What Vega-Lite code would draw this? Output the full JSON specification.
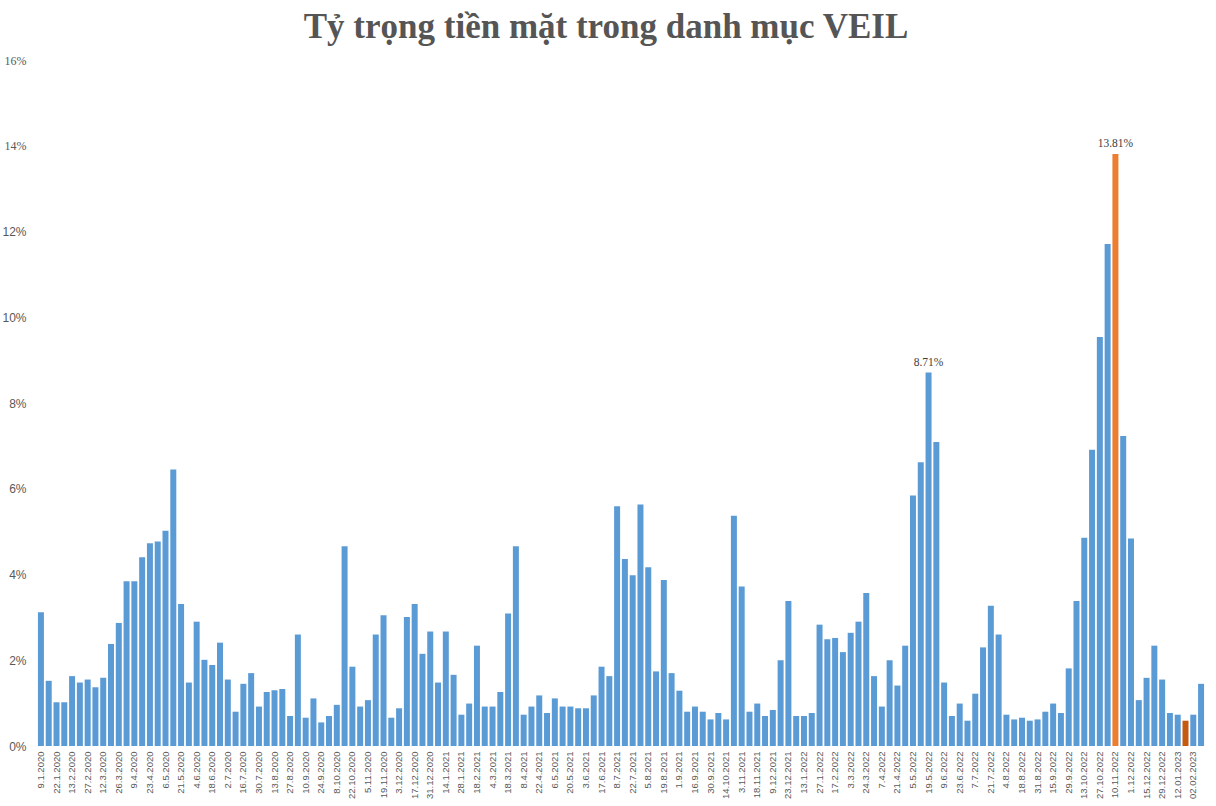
{
  "$schema": "https://vega.github.io/schema/vega-lite/v6.json",
  "autosize": {"type": "none"},
  "width": 1168,
  "height": 686,
  "padding": {"left": 37, "top": 60, "right": 11, "bottom": 60},
  "background": "#ffffff",
  "title": {
    "text": "Tỷ trọng tiền mặt trong danh mục VEIL",
    "font": "Liberation Serif",
    "fontSize": 35,
    "fontWeight": "bold",
    "color": "#555555",
    "anchor": "middle",
    "frame": "group",
    "dx": -15,
    "dy": 5,
    "offset": 14
  },
  "config": {"view": {"stroke": null}},
  "data": {
    "values": [
      {"date": "9.1.2020", "v": 0.0312},
      {"date": "15.1.2020", "v": 0.0152},
      {"date": "22.1.2020", "v": 0.0102},
      {"date": "6.2.2020", "v": 0.0102},
      {"date": "13.2.2020", "v": 0.0163},
      {"date": "20.2.2020", "v": 0.0148},
      {"date": "27.2.2020", "v": 0.0155},
      {"date": "5.3.2020", "v": 0.0137},
      {"date": "12.3.2020", "v": 0.0159},
      {"date": "19.3.2020", "v": 0.0238},
      {"date": "26.3.2020", "v": 0.0287},
      {"date": "2.4.2020", "v": 0.0384},
      {"date": "9.4.2020", "v": 0.0384},
      {"date": "16.4.2020", "v": 0.0440},
      {"date": "23.4.2020", "v": 0.0473},
      {"date": "29.4.2020", "v": 0.0477},
      {"date": "6.5.2020", "v": 0.0502},
      {"date": "14.5.2020", "v": 0.0645},
      {"date": "21.5.2020", "v": 0.0331},
      {"date": "28.5.2020", "v": 0.0148},
      {"date": "4.6.2020", "v": 0.0290},
      {"date": "11.6.2020", "v": 0.0201},
      {"date": "18.6.2020", "v": 0.0189},
      {"date": "25.6.2020", "v": 0.0241},
      {"date": "2.7.2020", "v": 0.0155},
      {"date": "9.7.2020", "v": 0.0080},
      {"date": "16.7.2020", "v": 0.0145},
      {"date": "23.7.2020", "v": 0.0170},
      {"date": "30.7.2020", "v": 0.0092},
      {"date": "6.8.2020", "v": 0.0126},
      {"date": "13.8.2020", "v": 0.0130},
      {"date": "20.8.2020", "v": 0.0133},
      {"date": "27.8.2020", "v": 0.0070},
      {"date": "3.9.2020", "v": 0.0260},
      {"date": "10.9.2020", "v": 0.0066},
      {"date": "17.9.2020", "v": 0.0111},
      {"date": "24.9.2020", "v": 0.0055},
      {"date": "1.10.2020", "v": 0.0070},
      {"date": "8.10.2020", "v": 0.0096},
      {"date": "15.10.2020", "v": 0.0466},
      {"date": "22.10.2020", "v": 0.0185},
      {"date": "29.10.2020", "v": 0.0092},
      {"date": "5.11.2020", "v": 0.0107},
      {"date": "12.11.2020", "v": 0.0260},
      {"date": "19.11.2020", "v": 0.0305},
      {"date": "26.11.2020", "v": 0.0066},
      {"date": "3.12.2020", "v": 0.0088},
      {"date": "10.12.2020", "v": 0.0301},
      {"date": "17.12.2020", "v": 0.0331},
      {"date": "24.12.2020", "v": 0.0215},
      {"date": "31.12.2020", "v": 0.0267},
      {"date": "7.1.2021", "v": 0.0148},
      {"date": "14.1.2021", "v": 0.0267},
      {"date": "21.1.2021", "v": 0.0166},
      {"date": "28.1.2021", "v": 0.0073},
      {"date": "4.2.2021", "v": 0.0099},
      {"date": "18.2.2021", "v": 0.0234},
      {"date": "25.2.2021", "v": 0.0092},
      {"date": "4.3.2021", "v": 0.0092},
      {"date": "11.3.2021", "v": 0.0126},
      {"date": "18.3.2021", "v": 0.0309},
      {"date": "25.3.2021", "v": 0.0466},
      {"date": "8.4.2021", "v": 0.0073},
      {"date": "15.4.2021", "v": 0.0092},
      {"date": "22.4.2021", "v": 0.0118},
      {"date": "29.4.2021", "v": 0.0077},
      {"date": "6.5.2021", "v": 0.0111},
      {"date": "13.5.2021", "v": 0.0092},
      {"date": "20.5.2021", "v": 0.0092},
      {"date": "27.5.2021", "v": 0.0088},
      {"date": "3.6.2021", "v": 0.0088},
      {"date": "10.6.2021", "v": 0.0118},
      {"date": "17.6.2021", "v": 0.0185},
      {"date": "1.7.2021", "v": 0.0163},
      {"date": "8.7.2021", "v": 0.0559},
      {"date": "15.7.2021", "v": 0.0436},
      {"date": "22.7.2021", "v": 0.0398},
      {"date": "29.7.2021", "v": 0.0563},
      {"date": "5.8.2021", "v": 0.0417},
      {"date": "12.8.2021", "v": 0.0174},
      {"date": "19.8.2021", "v": 0.0387},
      {"date": "26.8.2021", "v": 0.0170},
      {"date": "1.9.2021", "v": 0.0129},
      {"date": "9.9.2021", "v": 0.0080},
      {"date": "16.9.2021", "v": 0.0092},
      {"date": "23.9.2021", "v": 0.0080},
      {"date": "30.9.2021", "v": 0.0062},
      {"date": "7.10.2021", "v": 0.0077},
      {"date": "14.10.2021", "v": 0.0062},
      {"date": "28.10.2021", "v": 0.0537},
      {"date": "3.11.2021", "v": 0.0372},
      {"date": "11.11.2021", "v": 0.0080},
      {"date": "18.11.2021", "v": 0.0099},
      {"date": "2.12.2021", "v": 0.0070},
      {"date": "9.12.2021", "v": 0.0084},
      {"date": "16.12.2021", "v": 0.0200},
      {"date": "23.12.2021", "v": 0.0338},
      {"date": "6.1.2022", "v": 0.0070},
      {"date": "13.1.2022", "v": 0.0070},
      {"date": "20.1.2022", "v": 0.0077},
      {"date": "27.1.2022", "v": 0.0283},
      {"date": "10.2.2022", "v": 0.0249},
      {"date": "17.2.2022", "v": 0.0252},
      {"date": "24.2.2022", "v": 0.0219},
      {"date": "3.3.2022", "v": 0.0264},
      {"date": "17.3.2022", "v": 0.0290},
      {"date": "24.3.2022", "v": 0.0357},
      {"date": "31.3.2022", "v": 0.0163},
      {"date": "7.4.2022", "v": 0.0092},
      {"date": "14.4.2022", "v": 0.0200},
      {"date": "21.4.2022", "v": 0.0141},
      {"date": "28.4.2022", "v": 0.0234},
      {"date": "5.5.2022", "v": 0.0584},
      {"date": "12.5.2022", "v": 0.0662},
      {"date": "19.5.2022", "v": 0.0871},
      {"date": "2.6.2022", "v": 0.0709},
      {"date": "9.6.2022", "v": 0.0148},
      {"date": "16.6.2022", "v": 0.0070},
      {"date": "23.6.2022", "v": 0.0099},
      {"date": "30.6.2022", "v": 0.0059},
      {"date": "7.7.2022", "v": 0.0122},
      {"date": "14.7.2022", "v": 0.0230},
      {"date": "21.7.2022", "v": 0.0327},
      {"date": "28.7.2022", "v": 0.0260},
      {"date": "4.8.2022", "v": 0.0073},
      {"date": "11.8.2022", "v": 0.0062},
      {"date": "18.8.2022", "v": 0.0066},
      {"date": "25.8.2022", "v": 0.0059},
      {"date": "31.8.2022", "v": 0.0062},
      {"date": "8.9.2022", "v": 0.0080},
      {"date": "15.9.2022", "v": 0.0099},
      {"date": "22.9.2022", "v": 0.0077},
      {"date": "29.9.2022", "v": 0.0181},
      {"date": "6.10.2022", "v": 0.0338},
      {"date": "13.10.2022", "v": 0.0486},
      {"date": "20.10.2022", "v": 0.0691},
      {"date": "27.10.2022", "v": 0.0954},
      {"date": "3.11.2022", "v": 0.1171},
      {"date": "10.11.2022", "v": 0.1381},
      {"date": "24.11.2022", "v": 0.0723},
      {"date": "1.12.2022", "v": 0.0484},
      {"date": "8.12.2022", "v": 0.0107},
      {"date": "15.12.2022", "v": 0.0159},
      {"date": "22.12.2022", "v": 0.0234},
      {"date": "29.12.2022", "v": 0.0155},
      {"date": "05.01.2023", "v": 0.0077},
      {"date": "12.01.2023", "v": 0.0073},
      {"date": "19.01.2023", "v": 0.0059},
      {"date": "02.02.2023", "v": 0.0073},
      {"date": "09.02.2023", "v": 0.0145}
    ]
  },
  "encoding": {
    "x": {
      "field": "date",
      "type": "nominal",
      "sort": null,
      "title": null,
      "scale": {"paddingInner": 0.23, "paddingOuter": 0.12},
      "axis": {
        "values": ["9.1.2020","22.1.2020","13.2.2020","27.2.2020","12.3.2020","26.3.2020","9.4.2020","23.4.2020","6.5.2020","21.5.2020","4.6.2020","18.6.2020","2.7.2020","16.7.2020","30.7.2020","13.8.2020","27.8.2020","10.9.2020","24.9.2020","8.10.2020","22.10.2020","5.11.2020","19.11.2020","3.12.2020","17.12.2020","31.12.2020","14.1.2021","28.1.2021","18.2.2021","4.3.2021","18.3.2021","8.4.2021","22.4.2021","6.5.2021","20.5.2021","3.6.2021","17.6.2021","8.7.2021","22.7.2021","5.8.2021","19.8.2021","1.9.2021","16.9.2021","30.9.2021","14.10.2021","3.11.2021","18.11.2021","9.12.2021","23.12.2021","13.1.2022","27.1.2022","17.2.2022","3.3.2022","24.3.2022","7.4.2022","21.4.2022","5.5.2022","19.5.2022","9.6.2022","23.6.2022","7.7.2022","21.7.2022","4.8.2022","18.8.2022","31.8.2022","15.9.2022","29.9.2022","13.10.2022","27.10.2022","10.11.2022","1.12.2022","15.12.2022","29.12.2022","12.01.2023","02.02.2023"],
        "labelAngle": -90,
        "labelFont": "Liberation Sans",
        "labelFontSize": 9.5,
        "labelColor": "#595959",
        "labelPadding": 5,
        "ticks": false,
        "domain": false,
        "grid": false,
        "labelOverlap": false
      }
    },
    "y": {
      "field": "v",
      "type": "quantitative",
      "title": null,
      "scale": {"domain": [0, 0.16], "nice": false},
      "axis": {
        "values": [0, 0.02, 0.04, 0.06, 0.08, 0.1, 0.12, 0.14, 0.16],
        "format": ".0%",
        "labelFont": {"condition": {"test": "datum.value >= 0.13", "value": "Liberation Serif"}, "value": "Liberation Sans"},
        "labelFontSize": 12,
        "labelColor": "#595959",
        "labelPadding": 11,
        "ticks": false,
        "domain": false,
        "grid": false
      }
    }
  },
  "layer": [
    {
      "mark": {"type": "bar"},
      "encoding": {
        "color": {
          "condition": [
            {"test": "datum.date == '10.11.2022'", "value": "#ED7D31"},
            {"test": "datum.date == '19.01.2023'", "value": "#C55A11"}
          ],
          "value": "#5B9BD5"
        }
      }
    },
    {
      "transform": [{"filter": "datum.date == '19.5.2022' || datum.date == '10.11.2022'"}],
      "mark": {"type": "text", "baseline": "bottom", "dy": -5, "font": "Liberation Serif", "fontSize": 11.5, "color": "#404040"},
      "encoding": {
        "text": {"field": "v", "type": "quantitative", "format": ".2%"}
      }
    }
  ]
}
